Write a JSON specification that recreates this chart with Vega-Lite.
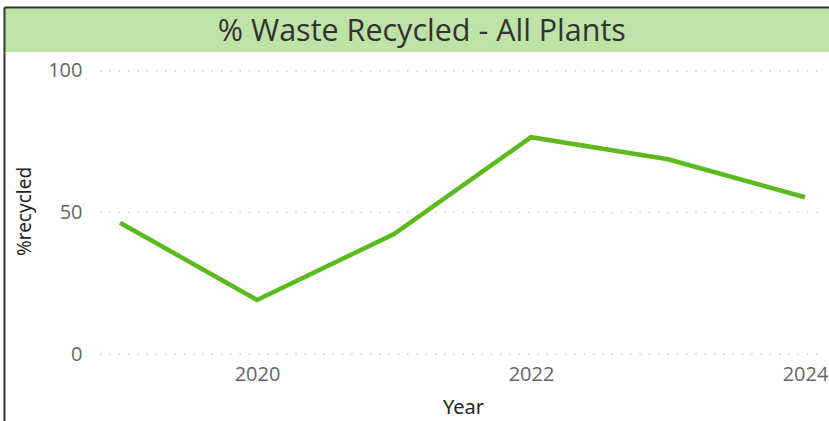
{
  "$schema": "https://vega.github.io/schema/vega-lite/v6.json",
  "padding": {"left": 4, "top": 7, "right": 0, "bottom": 0},
  "background": "white",
  "spacing": 0,
  "config": {"view": {"stroke": null}, "concat": {"spacing": 0}},
  "datasets": {
    "titleRow": [{"label": "% Waste Recycled - All Plants"}],
    "grid": [{"g": 0}, {"g": 50}, {"g": 100}],
    "series": [
      {"Year": 2019, "recycled": 46.4},
      {"Year": 2020, "recycled": 19.1},
      {"Year": 2021, "recycled": 42.4},
      {"Year": 2022, "recycled": 76.6},
      {"Year": 2023, "recycled": 68.8},
      {"Year": 2024, "recycled": 55.4}
    ]
  },
  "vconcat": [
    {
      "width": 825,
      "height": 45,
      "view": {"fill": "#bfe3a6", "stroke": null},
      "data": {"name": "titleRow"},
      "mark": {"type": "text", "font": "Open Sans", "fontSize": 30.5, "color": "#333333", "baseline": "middle", "align": "center"},
      "encoding": {
        "text": {"field": "label"},
        "x": {"datum": 0.013, "type": "quantitative", "scale": {"domain": [-1, 1], "nice": false}, "axis": {"orient": "top", "title": null, "labels": false, "ticks": false, "grid": false, "domain": true, "domainColor": "#333333", "domainWidth": 2}},
        "y": {"datum": -0.12, "type": "quantitative", "scale": {"domain": [-1, 1], "nice": false}, "axis": {"orient": "left", "title": null, "labels": false, "ticks": false, "grid": false, "domain": true, "domainColor": "#333333", "domainWidth": 2}}
      }
    },
    {
      "width": 825,
      "height": 369,
      "layer": [
        {
          "data": {"name": "grid"},
          "mark": {"type": "rule", "color": "#c8c8c8", "strokeWidth": 1.5, "strokeDash": [1.5, 7.8]},
          "encoding": {
            "y": {"field": "g", "type": "quantitative"},
            "x": {"datum": 2018.854, "type": "quantitative"},
            "x2": {"datum": 2024.095}
          }
        },
        {
          "data": {"name": "series"},
          "mark": {"type": "line", "color": "#5cb91e", "strokeWidth": 4.5, "strokeCap": "butt"},
          "encoding": {
            "x": {"field": "Year", "type": "quantitative"},
            "y": {"field": "recycled", "type": "quantitative"}
          }
        }
      ],
      "encoding": {
        "x": {
          "type": "quantitative",
          "scale": {"domain": [2018.153, 2024.175], "nice": false, "zero": false},
          "axis": {"orient": "bottom", "offset": -67, "values": [2020, 2022, 2024], "format": "d", "grid": false, "ticks": false, "tickSize": 0, "domain": false, "labelFont": "Open Sans", "labelFontSize": 20, "labelColor": "#666666", "labelPadding": 10, "title": "Year", "titleFont": "Noto Sans", "titleFontWeight": "normal", "titleFontSize": 20, "titleColor": "#252525", "titlePadding": 13, "titleX": 459, "titleAlign": "center"}
        },
        "y": {
          "type": "quantitative",
          "scale": {"domain": [-23.67, 106.71], "nice": false, "zero": false},
          "axis": {"orient": "left", "values": [0, 50, 100], "grid": false, "ticks": false, "tickSize": 0, "domain": true, "domainColor": "#333333", "domainWidth": 2, "labelFont": "Open Sans", "labelFontSize": 20, "labelColor": "#666666", "labelPadding": -78, "title": "%recycled", "titleFont": "Noto Sans", "titleFontWeight": "normal", "titleFontSize": 19, "titleColor": "#252525", "titleX": 26, "titleY": 159, "titleAngle": -90, "titleAlign": "center", "titleBaseline": "alphabetic"}
        }
      }
    }
  ]
}
